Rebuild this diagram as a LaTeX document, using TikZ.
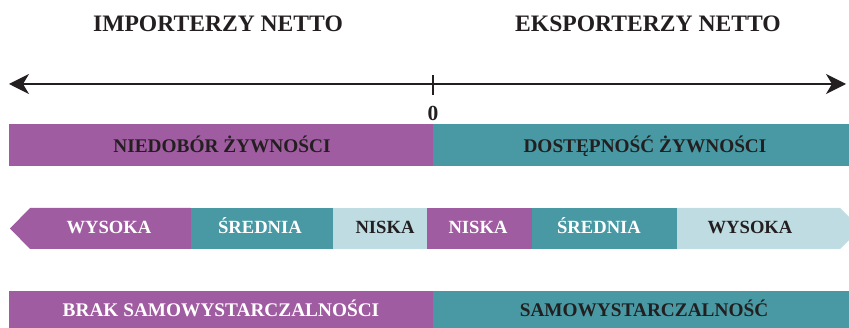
\documentclass[tikz,border=0pt]{standalone}
\usepackage{fontspec}
\setmainfont{Liberation Serif}
\usetikzlibrary{arrows.meta}
\definecolor{vio}{HTML}{A05CA0}
\definecolor{tea}{HTML}{4899A4}
\definecolor{lite}{HTML}{BEDCE2}
\definecolor{ink}{HTML}{231F20}
\tikzset{
  title/.style={font=\fontsize{23.6}{24}\selectfont\bfseries, text=ink, inner sep=0pt, anchor=base},
  lab/.style={font=\fontsize{18.6}{19}\selectfont\bfseries, inner sep=0pt, anchor=base},
  big/.style={font=\fontsize{19.3}{20}\selectfont\bfseries},
  dark/.style={lab, text=ink},
  light/.style={lab, text=white},
  axis/.style={line width=1.6pt, draw=ink, {Stealth[length=20pt,width=20pt,inset=6pt]}-{Stealth[length=20pt,width=20pt,inset=6pt]}},
}
\begin{document}
\begin{tikzpicture}[x=1pt,y=-1pt]
\useasboundingbox (0,0) rectangle (849,328);
\clip (0,0) rectangle (849,328);
% titles
\node[title] (imp) at (218,31.5) {IMPORTERZY NETTO};
\node[title] (eks) at (648,31.5) {EKSPORTERZY NETTO};
% axis
\coordinate (axl) at (9,84);
\coordinate (axr) at (846,84);
\draw[axis] (axl) -- (axr);
\coordinate (tickt) at (433,75);
\coordinate (tickb) at (433,95.5);
\draw[line width=2.6pt, draw=ink] (tickt) -- (tickb);
\node[dark, font=\fontsize{21.5}{22}\selectfont\bfseries] (zero) at (433,121) {0};
% row 1
\fill[vio] (9,124.5) rectangle (433,166.5);
\fill[tea] (433,124.5) rectangle (849,166.5);
\node[dark, big] (niedobor) at (222,152.3) {NIEDOBÓR ŻYWNOŚCI};
\node[dark, big] (dostep) at (645,152.3) {DOSTĘPNOŚĆ ŻYWNOŚCI};
% row 2
\fill[vio] (10,228.5) -- (30,208) -- (191,208) -- (191,249) -- (30,249) -- cycle;
\fill[tea] (191,208) rectangle (333,249);
\fill[lite] (333,208) rectangle (427,249);
\fill[vio] (427,208) rectangle (532,249);
\fill[tea] (532,208) rectangle (677,249);
\fill[lite] (677,208) -- (840,208) -- (860.5,228.5) -- (840,249) -- (677,249) -- cycle;
\node[light] (w1) at (109,233.3) {WYSOKA};
\node[light] (s1) at (260,233.3) {ŚREDNIA};
\node[dark] (n1) at (385,233.3) {NISKA};
\node[light] (n2) at (478,233.3) {NISKA};
\node[light] (s2) at (599,233.3) {ŚREDNIA};
\node[dark] (w2) at (750,233.3) {WYSOKA};
% row 3
\fill[vio] (9,291) rectangle (433,328);
\fill[tea] (433,291) rectangle (849,328);
\node[light, big] (brak) at (221,316.5) {BRAK SAMOWYSTARCZALNOŚCI};
\node[dark, big] (samo) at (644,316.5) {SAMOWYSTARCZALNOŚĆ};
\end{tikzpicture}
\end{document}
